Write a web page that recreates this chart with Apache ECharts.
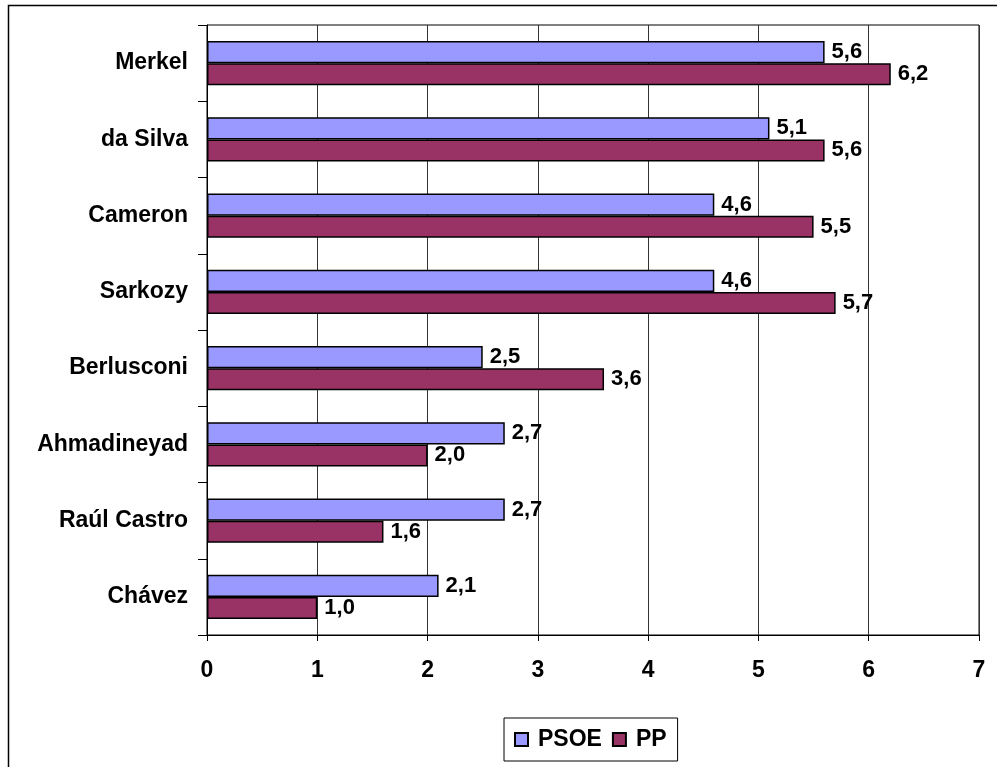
<!DOCTYPE html>
<html>
<head>
<meta charset="utf-8">
<script src="https://cdn.jsdelivr.net/npm/echarts@6/dist/echarts.min.js"></script>
<style>
  html, body { margin: 0; padding: 0; background: #fff; }
  #main { width: 997px; height: 767px; }
</style>
</head>
<body>
<div id="main"></div>
<script>
// datos
var lideres = ['Merkel', 'da Silva', 'Cameron', 'Sarkozy', 'Berlusconi', 'Ahmadineyad', 'Raúl Castro', 'Chávez'];
var psoe = [5.6, 5.1, 4.6, 4.6, 2.5, 2.7, 2.7, 2.1];
var pp = [6.2, 5.6, 5.5, 5.7, 3.6, 2.0, 1.6, 1.0];

var fuente = 'Liberation Sans, Arial, sans-serif';

var etiqueta = {
  show: true,
  position: 'right',
  distance: 7,
  color: '#000',
  fontFamily: fuente,
  fontWeight: 'bold',
  fontSize: 22,
  formatter: function (p) {
    return p.value.toFixed(1).replace('.', ',');
  }
};

var myChart = echarts.init(document.getElementById('main'));
myChart.setOption({
  animation: false,
  backgroundColor: '#fff',
  // marco exterior (solo se ven los bordes superior e izquierdo)
  graphic: [{
    type: 'polyline',
    shape: { points: [[8.5, 767], [8.5, 5.5], [997, 5.5]] },
    style: { fill: 'none', stroke: '#000', lineWidth: 1.5 },
    z: -1
  }],
  grid: { left: 207, right: 18, top: 25, bottom: 132, show: true, borderColor: '#000', borderWidth: 1 },
  legend: {
    bottom: 6,
    left: 504,
    data: ['PSOE', 'PP'],
    icon: 'rect',
    itemWidth: 13,
    itemHeight: 13,
    itemGap: 10,
    padding: [10, 11, 10, 10],
    borderColor: '#000',
    borderWidth: 1,
    textStyle: { fontFamily: fuente, fontWeight: 'bold', fontSize: 23, color: '#000', padding: [0, 0, 0, 5] }
  },
  xAxis: {
    type: 'value',
    min: 0,
    max: 7,
    interval: 1,
    axisLine: { show: true, lineStyle: { color: '#000', width: 1 } },
    axisTick: { show: true, length: 6, lineStyle: { color: '#000' } },
    axisLabel: { margin: 24, color: '#000', fontFamily: fuente, fontWeight: 'bold', fontSize: 23 },
    splitLine: { show: true, lineStyle: { color: '#333', width: 1 } }
  },
  yAxis: {
    type: 'category',
    data: lideres,
    inverse: true,
    axisLine: { show: true, lineStyle: { color: '#000' } },
    axisTick: { show: true, length: 9, lineStyle: { color: '#000' } },
    axisLabel: { margin: 19, color: '#000', fontFamily: fuente, fontWeight: 'bold', fontSize: 23 }
  },
  series: [
    {
      name: 'PSOE',
      type: 'bar',
      data: psoe,
      barGap: '0%',
      barCategoryGap: '42%',
      itemStyle: { color: '#9999FF', borderColor: '#000', borderWidth: 1.5 },
      label: etiqueta
    },
    {
      name: 'PP',
      type: 'bar',
      data: pp,
      barGap: '0%',
      barCategoryGap: '42%',
      itemStyle: { color: '#993366', borderColor: '#000', borderWidth: 1.5 },
      label: etiqueta
    }
  ]
});
</script>
</body>
</html>
